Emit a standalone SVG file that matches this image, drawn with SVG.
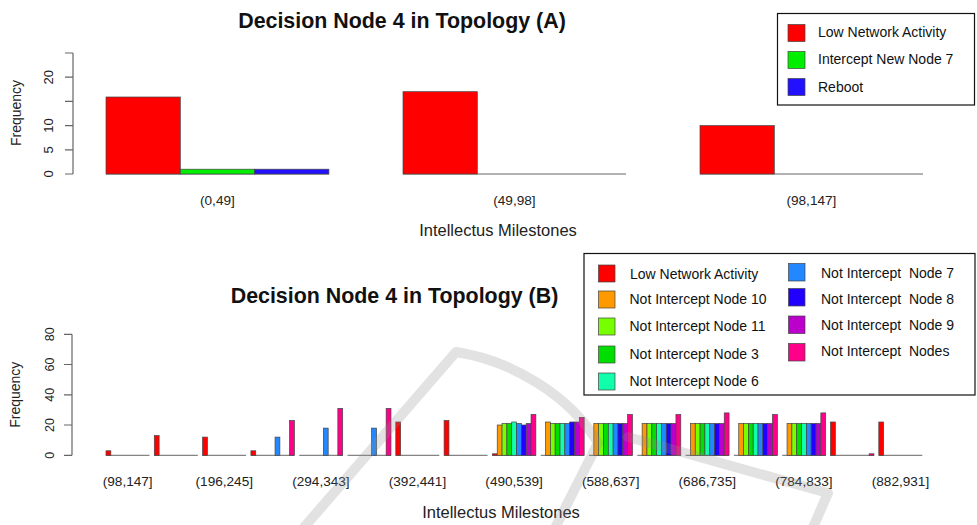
<svg xmlns="http://www.w3.org/2000/svg" width="977" height="525" viewBox="0 0 977 525">
<style>
text{font-family:"Liberation Sans",Arial,Helvetica,sans-serif;fill:#111}
.title{font-size:21.4px;font-weight:bold;text-anchor:middle}
.xl{font-size:13.6px;text-anchor:middle;fill:#222}
.xt{font-size:16.5px;text-anchor:middle;fill:#222}
.yl{font-size:14px;text-anchor:middle;fill:#222}
.tk{font-size:13px;text-anchor:middle;fill:#222}
.tkb{font-size:12.5px;text-anchor:middle;fill:#222}
.lg{font-size:14px;fill:#111;white-space:pre}
.ax{stroke:#666;stroke-width:1.2;fill:none}
.base{stroke:#666;stroke-width:1;fill:none}
rect.b{stroke:#444;stroke-width:0.7}
.c0{fill:#FF0000}.c1{fill:#FF9900}.c2{fill:#77FF00}.c3{fill:#00DD00}.c4{fill:#11FFAA}
.c5{fill:#2288FF}.c6{fill:#2200FF}.c7{fill:#BB00CC}.c8{fill:#FF0088}
.ga{fill:#00EE00}.bb{fill:#2211FF}
.box{fill:#fff;stroke:#111;stroke-width:1.2}
.wm{fill:none;stroke:#8a8a8a;stroke-opacity:0.25;stroke-width:10;stroke-linecap:round;stroke-linejoin:round}
</style>
<rect width="977" height="525" fill="#fff"/>

<g id="chartA">
  <text class="title" x="402" y="27.5">Decision Node 4 in Topology (A)</text>
  <g id="axisA">
    <path class="ax" d="M73 53V174M65 174H73M65 149.8H73M65 125.6H73M65 101.4H73M65 77.2H73M65 53H73"/>
    <text class="tk" transform="translate(53,174) rotate(-90)">0</text>
    <text class="tk" transform="translate(53,149.8) rotate(-90)">5</text>
    <text class="tk" transform="translate(53,125.6) rotate(-90)">10</text>
    <text class="tk" transform="translate(53,77.2) rotate(-90)">20</text>
    <text class="yl" transform="translate(20.5,113) rotate(-90)">Frequency</text>
  </g>
  <g id="barsA">
    <path class="base" d="M106 174H329M403 174H626M700 174H923"/>
    <rect class="b c0" x="106" y="97" width="74.3" height="77"/>
    <rect class="b ga" x="180.3" y="169.2" width="74.3" height="4.8"/>
    <rect class="b bb" x="254.6" y="169.2" width="74.3" height="4.8"/>
    <rect class="b c0" x="403" y="91.7" width="74.3" height="82.3"/>
    <rect class="b c0" x="700" y="125.6" width="74.3" height="48.4"/>
  </g>
  <text class="xl" x="217.4" y="205">(0,49]</text>
  <text class="xl" x="514.4" y="205">(49,98]</text>
  <text class="xl" x="811.4" y="205">(98,147]</text>
  <text class="xt" x="498" y="236">Intellectus Milestones</text>
</g>

<g id="legendA">
  <rect class="box" x="777.5" y="13.5" width="197" height="91.5"/>
  <rect class="b c0" x="788" y="24.5" width="17" height="17"/>
  <rect class="b ga" x="788" y="51.5" width="17" height="17"/>
  <rect class="b bb" x="788" y="78.5" width="17" height="17"/>
  <text class="lg" x="818" y="37">Low Network Activity</text>
  <text class="lg" x="818" y="64">Intercept New Node 7</text>
  <text class="lg" x="818" y="91.5">Reboot</text>
</g>

<g id="chartB">
  <text class="title" x="394.5" y="303">Decision Node 4 in Topology (B)</text>
  <g id="axisB">
    <path class="ax" d="M72 334.3V455.3M64 455.3H72M64 425H72M64 394.8H72M64 364.5H72M64 334.3H72"/>
    <text class="tkb" transform="translate(54,455.3) rotate(-90)">0</text>
    <text class="tkb" transform="translate(54,425) rotate(-90)">20</text>
    <text class="tkb" transform="translate(54,394.8) rotate(-90)">40</text>
    <text class="tkb" transform="translate(54,364.5) rotate(-90)">60</text>
    <text class="tkb" transform="translate(54,334.3) rotate(-90)">80</text>
    <text class="yl" transform="translate(20,394.7) rotate(-90)">Frequency</text>
  </g>
  <g id="barsB">
    <path class="base" d="M106 455.3h43.5M154.3 455.3h43.5M202.6 455.3h43.5M250.9 455.3h43.5M299.2 455.3h43.5M347.5 455.3h43.5M395.8 455.3h43.5M444.1 455.3h43.5M492.4 455.3h43.5M540.7 455.3h43.5M589 455.3h43.5M637.3 455.3h43.5M685.6 455.3h43.5M733.9 455.3h43.5M782.2 455.3h43.5M830.5 455.3h43.5M878.8 455.3h43.5"/>
    <rect class="b c0" x="106" y="450.8" width="4.83" height="4.5"/>
    <rect class="b c0" x="154.3" y="435.6" width="4.83" height="19.7"/>
    <rect class="b c0" x="202.6" y="437.1" width="4.83" height="18.2"/>
    <rect class="b c0" x="250.9" y="450.8" width="4.83" height="4.5"/>
    <rect class="b c5" x="275.05" y="437.1" width="4.83" height="18.2"/>
    <rect class="b c8" x="289.54" y="420.5" width="4.83" height="34.8"/>
    <rect class="b c5" x="323.35" y="428.1" width="4.83" height="27.2"/>
    <rect class="b c8" x="337.84" y="408.4" width="4.83" height="46.9"/>
    <rect class="b c5" x="371.65" y="428.1" width="4.83" height="27.2"/>
    <rect class="b c8" x="386.14" y="408.4" width="4.83" height="46.9"/>
    <rect class="b c0" x="395.8" y="422" width="4.83" height="33.3"/>
    <rect class="b c0" x="444.1" y="420.5" width="4.83" height="34.8"/>
    <rect class="b c0" x="492.4" y="453.8" width="4.83" height="1.5"/>
    <rect class="b c1" x="497.23" y="425" width="4.83" height="30.3"/>
    <rect class="b c2" x="502.06" y="423.5" width="4.83" height="31.8"/>
    <rect class="b c3" x="506.89" y="423.5" width="4.83" height="31.8"/>
    <rect class="b c4" x="511.72" y="422" width="4.83" height="33.3"/>
    <rect class="b c5" x="516.55" y="423.5" width="4.83" height="31.8"/>
    <rect class="b c6" x="521.38" y="425" width="4.83" height="30.3"/>
    <rect class="b c7" x="526.21" y="423.5" width="4.83" height="31.8"/>
    <rect class="b c8" x="531.04" y="414.5" width="4.83" height="40.8"/>
    <rect class="b c1" x="545.53" y="422" width="4.83" height="33.3"/>
    <rect class="b c2" x="550.36" y="423.5" width="4.83" height="31.8"/>
    <rect class="b c3" x="555.19" y="423.5" width="4.83" height="31.8"/>
    <rect class="b c4" x="560.02" y="423.5" width="4.83" height="31.8"/>
    <rect class="b c5" x="564.85" y="423.5" width="4.83" height="31.8"/>
    <rect class="b c6" x="569.68" y="422" width="4.83" height="33.3"/>
    <rect class="b c7" x="574.51" y="422" width="4.83" height="33.3"/>
    <rect class="b c8" x="579.34" y="417.5" width="4.83" height="37.8"/>
    <rect class="b c1" x="593.83" y="423.5" width="4.83" height="31.8"/>
    <rect class="b c2" x="598.66" y="423.5" width="4.83" height="31.8"/>
    <rect class="b c3" x="603.49" y="423.5" width="4.83" height="31.8"/>
    <rect class="b c4" x="608.32" y="423.5" width="4.83" height="31.8"/>
    <rect class="b c5" x="613.15" y="423.5" width="4.83" height="31.8"/>
    <rect class="b c6" x="617.98" y="423.5" width="4.83" height="31.8"/>
    <rect class="b c7" x="622.81" y="423.5" width="4.83" height="31.8"/>
    <rect class="b c8" x="627.64" y="414.5" width="4.83" height="40.8"/>
    <rect class="b c1" x="642.13" y="423.5" width="4.83" height="31.8"/>
    <rect class="b c2" x="646.96" y="423.5" width="4.83" height="31.8"/>
    <rect class="b c3" x="651.79" y="423.5" width="4.83" height="31.8"/>
    <rect class="b c4" x="656.62" y="423.5" width="4.83" height="31.8"/>
    <rect class="b c5" x="661.45" y="423.5" width="4.83" height="31.8"/>
    <rect class="b c6" x="666.28" y="423.5" width="4.83" height="31.8"/>
    <rect class="b c7" x="671.11" y="423.5" width="4.83" height="31.8"/>
    <rect class="b c8" x="675.94" y="414.5" width="4.83" height="40.8"/>
    <rect class="b c1" x="690.43" y="423.5" width="4.83" height="31.8"/>
    <rect class="b c2" x="695.26" y="423.5" width="4.83" height="31.8"/>
    <rect class="b c3" x="700.09" y="423.5" width="4.83" height="31.8"/>
    <rect class="b c4" x="704.92" y="423.5" width="4.83" height="31.8"/>
    <rect class="b c5" x="709.75" y="423.5" width="4.83" height="31.8"/>
    <rect class="b c6" x="714.58" y="423.5" width="4.83" height="31.8"/>
    <rect class="b c7" x="719.41" y="423.5" width="4.83" height="31.8"/>
    <rect class="b c8" x="724.24" y="412.9" width="4.83" height="42.4"/>
    <rect class="b c1" x="738.73" y="423.5" width="4.83" height="31.8"/>
    <rect class="b c2" x="743.56" y="423.5" width="4.83" height="31.8"/>
    <rect class="b c3" x="748.39" y="423.5" width="4.83" height="31.8"/>
    <rect class="b c4" x="753.22" y="423.5" width="4.83" height="31.8"/>
    <rect class="b c5" x="758.05" y="423.5" width="4.83" height="31.8"/>
    <rect class="b c6" x="762.88" y="423.5" width="4.83" height="31.8"/>
    <rect class="b c7" x="767.71" y="423.5" width="4.83" height="31.8"/>
    <rect class="b c8" x="772.54" y="414.5" width="4.83" height="40.8"/>
    <rect class="b c1" x="787.03" y="423.5" width="4.83" height="31.8"/>
    <rect class="b c2" x="791.86" y="423.5" width="4.83" height="31.8"/>
    <rect class="b c3" x="796.69" y="423.5" width="4.83" height="31.8"/>
    <rect class="b c4" x="801.52" y="423.5" width="4.83" height="31.8"/>
    <rect class="b c5" x="806.35" y="423.5" width="4.83" height="31.8"/>
    <rect class="b c6" x="811.18" y="423.5" width="4.83" height="31.8"/>
    <rect class="b c7" x="816.01" y="423.5" width="4.83" height="31.8"/>
    <rect class="b c8" x="820.84" y="412.9" width="4.83" height="42.4"/>
    <rect class="b c0" x="830.5" y="422" width="4.83" height="33.3"/>
    <rect class="b c8" x="869.14" y="453.8" width="4.83" height="1.5"/>
    <rect class="b c0" x="878.8" y="422" width="4.83" height="33.3"/>
  </g>
  <text class="xl" x="127.7" y="486">(98,147]</text>
  <text class="xl" x="224.3" y="486">(196,245]</text>
  <text class="xl" x="320.9" y="486">(294,343]</text>
  <text class="xl" x="417.5" y="486">(392,441]</text>
  <text class="xl" x="514.1" y="486">(490,539]</text>
  <text class="xl" x="610.7" y="486">(588,637]</text>
  <text class="xl" x="707.3" y="486">(686,735]</text>
  <text class="xl" x="803.9" y="486">(784,833]</text>
  <text class="xl" x="900.5" y="486">(882,931]</text>
  <text class="xt" x="501" y="518">Intellectus Milestones</text>
</g>

<g id="legendB">
  <rect class="box" x="584" y="253.5" width="391" height="141.5"/>
  <rect class="b c0" x="598.5" y="265" width="16.5" height="17"/>
  <rect class="b c1" x="598.5" y="291" width="16.5" height="17"/>
  <rect class="b c2" x="598.5" y="318" width="16.5" height="17"/>
  <rect class="b c3" x="598.5" y="346" width="16.5" height="17"/>
  <rect class="b c4" x="598.5" y="373" width="16.5" height="17"/>
  <text class="lg" x="630" y="278.5">Low Network Activity</text>
  <text class="lg" x="629.5" y="304">Not Intercept Node 10</text>
  <text class="lg" x="629.5" y="331">Not Intercept Node 11</text>
  <text class="lg" x="629.5" y="359">Not Intercept Node 3</text>
  <text class="lg" x="629.5" y="386">Not Intercept Node 6</text>
  <rect class="b c5" x="788.5" y="263.5" width="16.5" height="17.5"/>
  <rect class="b c6" x="788.5" y="288.5" width="16.5" height="17.5"/>
  <rect class="b c7" x="788.5" y="316" width="16.5" height="17.5"/>
  <rect class="b c8" x="788.5" y="343.5" width="16.5" height="17.5"/>
  <text class="lg" x="821" y="278">Not Intercept  Node 7</text>
  <text class="lg" x="821" y="303.5">Not Intercept  Node 8</text>
  <text class="lg" x="821" y="330">Not Intercept  Node 9</text>
  <text class="lg" x="821" y="356">Not Intercept  Nodes</text>
</g>

<g id="watermark">
  <path class="wm" d="M300 532L456 352C510 360 570 395 598 443L553 532"/>
  <path class="wm" d="M628 437L828 493L811 532"/>
</g>
</svg>
